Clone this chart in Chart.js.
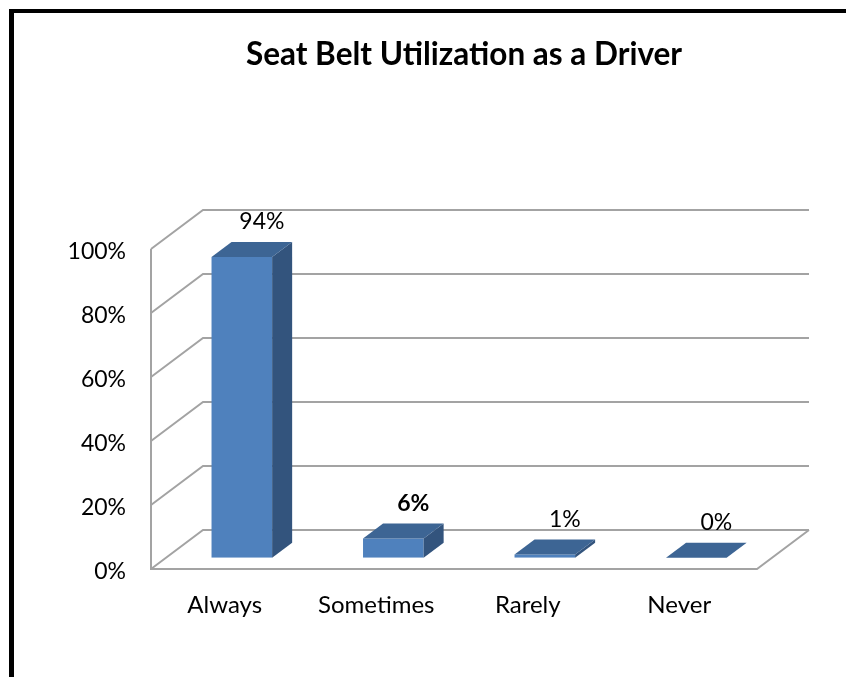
<!DOCTYPE html>
<html>
<head>
<meta charset="utf-8">
<script src="https://cdn.jsdelivr.net/npm/chart.js@4"></script>
<style>
  html, body { margin: 0; padding: 0; background: #fff; }
  canvas { display: block; }
</style>
</head>
<body>
<canvas id="myChart" width="846" height="677"></canvas>
<script>
const title = 'Seat Belt Utilization as a Driver';
const categories = ['Always', 'Sometimes', 'Rarely', 'Never'];
const shares = [94, 6, 1, 0];
const yTicks = [0, 20, 40, 60, 80, 100];

// 3d look: depth of the floor and where the bars sit in it
const depth = { x: 52, y: -39 };
const barFront = 0.29;
const barDepth = 0.385;
const lineColor = '#a3a3a3';
const frontColor = '#4f81bd';
const sideColor = '#33547d';
const topColor = '#3d6594';
const boldLabel = 1;

const threeD = {
    id: 'threeD',
    beforeDraw(chart) {
        const ctx = chart.ctx;
        ctx.save();
        ctx.fillStyle = '#000';
        ctx.fillRect(9, 9, 5, chart.height);
        ctx.fillRect(9, 9, chart.width, 4);
        // title sits a bit right of the plot centre, like the original
        ctx.font = 'bold 31.5px Lato';
        ctx.textAlign = 'center';
        ctx.textBaseline = 'middle';
        ctx.fillText(title, 464, 55);
        ctx.restore();
    },
    beforeDatasetsDraw(chart) {
        const ctx = chart.ctx;
        const a = chart.chartArea;
        const y = chart.scales.y;
        ctx.save();
        ctx.strokeStyle = lineColor;
        ctx.lineWidth = 2;
        ctx.beginPath();
        yTicks.forEach(t => {
            const py = y.getPixelForValue(t);
            ctx.moveTo(a.left, py);
            ctx.lineTo(a.left + depth.x, py + depth.y);
            ctx.lineTo(a.right + depth.x, py + depth.y);
        });
        ctx.moveTo(a.left, y.getPixelForValue(100));
        ctx.lineTo(a.left, a.bottom);
        ctx.lineTo(a.right, a.bottom);
        ctx.lineTo(a.right + depth.x, a.bottom + depth.y);
        ctx.stroke();
        ctx.restore();

        ctx.save();
        ctx.translate(depth.x * barFront, depth.y * barFront);
    },
    afterDatasetsDraw(chart) {
        const ctx = chart.ctx;
        ctx.restore();
        const dx = depth.x * barFront, dy = depth.y * barFront;
        const bx = depth.x * barDepth, by = depth.y * barDepth;
        const bars = chart.getDatasetMeta(0).data;
        ctx.save();
        bars.forEach((bar, i) => {
            const l = bar.x - bar.width / 2 + dx;
            const r = bar.x + bar.width / 2 + dx;
            const t = bar.y + dy;
            const b = bar.base + dy;
            ctx.fillStyle = sideColor;
            ctx.beginPath();
            ctx.moveTo(r, t);
            ctx.lineTo(r + bx, t + by);
            ctx.lineTo(r + bx, b + by);
            ctx.lineTo(r, b);
            ctx.closePath();
            ctx.fill();
            ctx.fillStyle = topColor;
            ctx.beginPath();
            ctx.moveTo(l, t);
            ctx.lineTo(r, t);
            ctx.lineTo(r + bx, t + by);
            ctx.lineTo(l + bx, t + by);
            ctx.closePath();
            ctx.fill();

            ctx.fillStyle = '#000';
            ctx.textAlign = 'center';
            ctx.textBaseline = 'middle';
            ctx.font = (i === boldLabel ? 'bold ' : '') + '23px Lato';
            ctx.fillText(shares[i] + '%', bar.x + dx + bx, t + by - 20);
        });
        ctx.restore();
    }
};

const data = {
    labels: categories,
    datasets: [
    {
        data: shares,
        backgroundColor: frontColor,
        borderWidth: 0,
        categoryPercentage: 1,
        barPercentage: 0.4,
    }
]
};

const config = {
    type: 'bar',
    data: data,
    options: {
        responsive: false,
        animation: false,
        layout: { padding: { top: 249, right: 89, left: 0, bottom: 0 } },
        plugins: {
            legend: { display: false },
            tooltip: { enabled: false },
            title: { display: false },
        },
        scales: {
            x: {
                grid: { display: false, drawTicks: false },
                border: { display: false },
                ticks: { color: '#000', font: { family: 'Lato', size: 24 }, padding: 22, labelOffset: -2 },
                afterFit(s) { s.height = 108; },
            },
            y: {
                min: 0,
                max: 100,
                grid: { display: false, drawTicks: false },
                border: { display: false },
                ticks: {
                    stepSize: 20,
                    color: '#000',
                    font: { family: 'Lato', size: 23 },
                    padding: 25,
                    labelOffset: 3,
                    callback: v => v + '%',
                },
                afterFit(s) { s.width = 151; },
            },
        },
    },
    plugins: [threeD],
};

const myChart = new Chart(
    document.getElementById('myChart'),
    config
);
</script>
</body>
</html>
